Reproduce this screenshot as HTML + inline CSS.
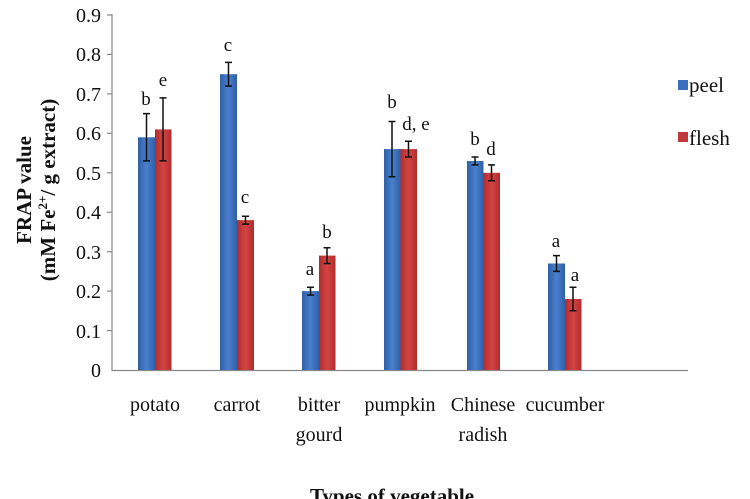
<!DOCTYPE html>
<html><head><meta charset="utf-8"><style>
html,body{margin:0;padding:0;background:#fff;}
svg{display:block;}
text{font-family:"Liberation Serif",serif;fill:#111;}
</style></head><body>
<svg width="750" height="499" viewBox="0 0 750 499">
<defs>
<linearGradient id="b" x1="0" x2="1"><stop offset="0" stop-color="#2f5fa8"/><stop offset="0.5" stop-color="#4a80cc"/><stop offset="1" stop-color="#2f5fa8"/></linearGradient>
<linearGradient id="r" x1="0" x2="1"><stop offset="0" stop-color="#b02c2c"/><stop offset="0.5" stop-color="#d44444"/><stop offset="1" stop-color="#b02c2c"/></linearGradient>
</defs>
<g stroke="#888" stroke-width="1.2">
<line x1="112" y1="14" x2="112" y2="371"/>
<line x1="112" y1="370.5" x2="688" y2="370.5"/>
<line x1="107" y1="15" x2="112" y2="15"/>
<line x1="107" y1="54.4" x2="112" y2="54.4"/>
<line x1="107" y1="93.9" x2="112" y2="93.9"/>
<line x1="107" y1="133.3" x2="112" y2="133.3"/>
<line x1="107" y1="172.8" x2="112" y2="172.8"/>
<line x1="107" y1="212.2" x2="112" y2="212.2"/>
<line x1="107" y1="251.7" x2="112" y2="251.7"/>
<line x1="107" y1="291.1" x2="112" y2="291.1"/>
<line x1="107" y1="330.6" x2="112" y2="330.6"/>
</g>
<g font-size="20" text-anchor="end">
<text x="101" y="22">0.9</text><text x="101" y="61">0.8</text><text x="101" y="101">0.7</text>
<text x="101" y="140">0.6</text><text x="101" y="180">0.5</text><text x="101" y="219">0.4</text>
<text x="101" y="259">0.3</text><text x="101" y="298">0.2</text><text x="101" y="338">0.1</text>
<text x="101" y="377">0</text>
</g>
<g>
<rect x="138" y="137.3" width="17" height="232.7" fill="url(#b)"/>
<rect x="155" y="129.4" width="16.5" height="240.6" fill="url(#r)"/>
<rect x="220" y="74.2" width="17" height="295.8" fill="url(#b)"/>
<rect x="237" y="220.1" width="17" height="149.9" fill="url(#r)"/>
<rect x="302" y="291.1" width="17" height="78.9" fill="url(#b)"/>
<rect x="319" y="255.6" width="16.5" height="114.4" fill="url(#r)"/>
<rect x="384" y="149.1" width="16.5" height="220.9" fill="url(#b)"/>
<rect x="400.5" y="149.1" width="16.5" height="220.9" fill="url(#r)"/>
<rect x="467" y="161" width="16.5" height="209" fill="url(#b)"/>
<rect x="483.5" y="172.8" width="16.5" height="197.2" fill="url(#r)"/>
<rect x="548" y="263.5" width="17" height="106.5" fill="url(#b)"/>
<rect x="565" y="299" width="16.5" height="71" fill="url(#r)"/>
</g>
<g stroke="#111" stroke-width="1.5" fill="none">
<path d="M146.5 113.6V160.9M143 113.6h7M143 160.9h7"/>
<path d="M163 97.9V160.9M159.5 97.9h7M159.5 160.9h7"/>
<path d="M228.5 62.4V86.1M225 62.4h7M225 86.1h7"/>
<path d="M245.5 216.2V224.1M242 216.2h7M242 224.1h7"/>
<path d="M310.5 287.2V295.1M307 287.2h7M307 295.1h7"/>
<path d="M327 247.7V263.5M323.5 247.7h7M323.5 263.5h7"/>
<path d="M392 121.5V176.7M388.5 121.5h7M388.5 176.7h7"/>
<path d="M408.5 141.2V157M405 141.2h7M405 157h7"/>
<path d="M475 157V164.9M471.5 157h7M471.5 164.9h7"/>
<path d="M491.5 164.9V180.7M488 164.9h7M488 180.7h7"/>
<path d="M556.5 255.6V271.4M553 255.6h7M553 271.4h7"/>
<path d="M573 287.2V310.8M569.5 287.2h7M569.5 310.8h7"/>
</g>
<g font-size="19" text-anchor="middle">
<text x="146" y="105">b</text><text x="163" y="86">e</text>
<text x="228" y="51">c</text><text x="245" y="203">c</text>
<text x="310" y="275">a</text><text x="327" y="238">b</text>
<text x="392" y="108">b</text><text x="416" y="130">d, e</text>
<text x="475" y="145">b</text><text x="491" y="155">d</text>
<text x="556" y="247">a</text><text x="575" y="281">a</text>
</g>
<g font-size="20" text-anchor="middle">
<text x="155" y="411">potato</text>
<text x="237" y="411">carrot</text>
<text x="319" y="411">bitter</text><text x="319" y="441">gourd</text>
<text x="400" y="411">pumpkin</text>
<text x="483" y="411">Chinese</text><text x="483" y="441">radish</text>
<text x="565" y="411">cucumber</text>
</g>
<rect x="678" y="80" width="10" height="10" fill="#3a6fbf"/>
<text x="689" y="92" font-size="21">peel</text>
<rect x="678" y="132" width="10" height="10" fill="#c0393a"/>
<text x="689" y="145" font-size="21">flesh</text>
<g font-weight="bold" font-size="21" text-anchor="middle">
<text transform="translate(31,190) rotate(-90)">FRAP value</text>
<text transform="translate(55,190) rotate(-90)">(mM Fe<tspan font-size="13" dy="-8">2+</tspan><tspan dy="8">/ g extract)</tspan></text>
<text x="392" y="503">Types of vegetable</text>
</g>
</svg>
</body></html>
